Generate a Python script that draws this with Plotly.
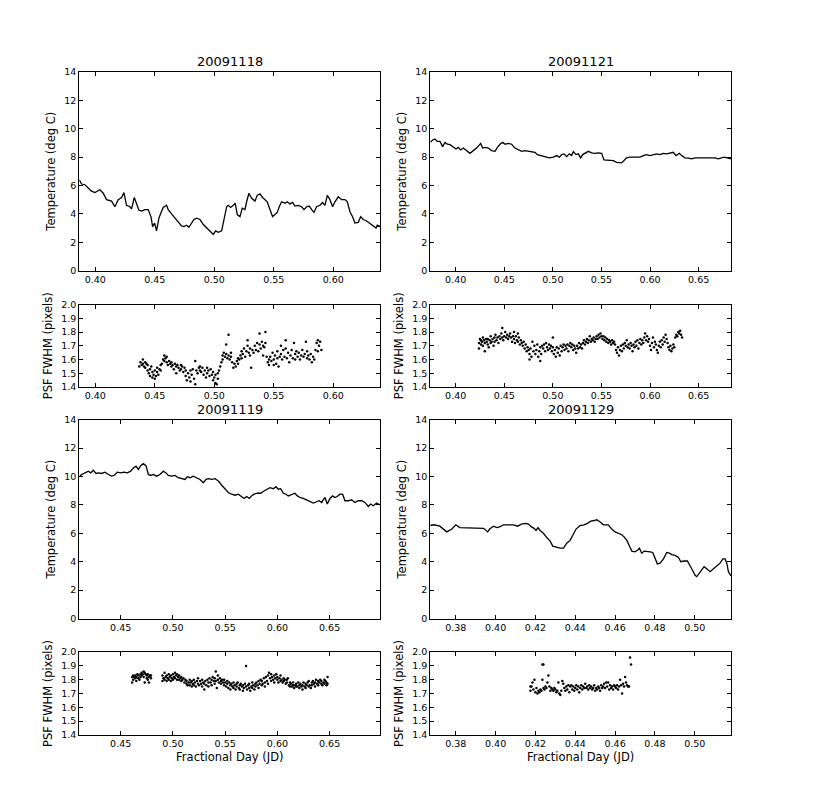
import plotly.graph_objects as go

# ---------------- data ----------------
titles = ["20091118", "20091121", "20091119", "20091129"]

t1_x = [0.3866,0.3885,0.3913,0.3941,0.3969,0.3997,0.4039,0.4067,0.4095,0.4137,
        0.4165,0.4193,0.4221,0.4241,0.4263,0.4291,0.4305,0.4328,0.4347,0.4367,
        0.4389,0.4417,0.4445,0.4468,0.4482,0.4499,0.4515,0.4535,0.4549,0.4571,
        0.4599,0.4613,0.4641,0.4669,0.4697,0.4725,0.4745,0.4768,0.4787,0.4810,
        0.4829,0.4852,0.4880,0.4908,0.4936,0.4964,0.4992,0.5011,0.5034,0.5062,
        0.5081,0.5104,0.5118,0.5137,0.5160,0.5176,0.5193,0.5216,0.5235,0.5258,
        0.5272,0.5291,0.5314,0.5342,0.5361,0.5384,0.5406,0.5426,0.5445,0.5468,
        0.5490,0.5510,0.5529,0.5546,0.5566,0.5594,0.5613,0.5636,0.5658,0.5678,
        0.5706,0.5734,0.5754,0.5776,0.5798,0.5818,0.5838,0.5860,0.5888,0.5910,
        0.5930,0.5950,0.5972,0.5994,0.6014,0.6042,0.6070,0.6098,0.6118,0.6140,
        0.6162,0.6182,0.6210,0.6230,0.6252,0.6280,0.6308,0.6336,0.6359,0.6370,0.6395]
t1_y = [6.4,6.1,6.05,5.8,5.6,5.5,5.7,5.45,5.0,4.9,
        4.5,5.0,5.15,5.5,4.6,4.5,4.35,5.15,4.75,4.25,
        4.2,4.3,4.3,3.8,3.1,3.35,2.8,3.7,4.0,4.45,
        4.6,4.3,4.0,3.7,3.4,3.15,3.1,3.2,3.05,3.35,
        3.6,3.7,3.6,3.25,3.0,2.8,2.55,2.8,2.7,2.8,
        3.6,4.5,4.6,4.45,4.6,4.75,3.95,3.8,4.4,4.3,
        4.85,5.45,5.1,4.9,5.3,5.4,5.15,5.0,4.85,4.3,
        3.8,3.95,4.1,4.5,4.85,4.75,4.85,4.7,4.8,4.55,
        4.6,4.5,4.3,4.5,4.55,4.3,4.1,4.5,4.6,4.8,
        4.6,5.3,5.0,4.5,4.85,5.2,5.0,5.0,4.85,4.15,
        3.8,3.35,3.4,3.8,3.6,3.5,3.3,3.1,3.0,3.2,3.1]

t2_x = [0.3739,0.3763,0.3787,0.3811,0.3839,0.3866,0.3890,0.3914,0.3942,0.3976,
        0.4003,0.4027,0.4051,0.4079,0.4113,0.4147,0.4182,0.4223,0.4257,0.4278,
        0.4302,0.4336,0.4370,0.4405,0.4429,0.4456,0.4484,0.4508,0.4542,0.4576,
        0.4610,0.4645,0.4679,0.4713,0.4748,0.4782,0.4816,0.4840,0.4874,0.4919,
        0.4964,0.5005,0.5039,0.5067,0.5091,0.5115,0.5142,0.5169,0.5193,0.5211,
        0.5238,0.5262,0.5286,0.5307,0.5331,0.5365,0.5399,0.5433,0.5468,0.5502,
        0.5526,0.5571,0.5622,0.5656,0.5708,0.5732,0.5759,0.5794,0.5845,0.5896,
        0.5931,0.5965,0.5999,0.6034,0.6068,0.6102,0.6136,0.6171,0.6205,0.6240,
        0.6267,0.6301,0.6325,0.6359,0.6394,0.6428,0.6462,0.6497,0.6531,0.6565,
        0.6599,0.6634,0.6668,0.6702,0.6737,0.6761,0.6795,0.6833]
t2_y = [9.03,9.2,9.26,9.1,9.1,8.73,9.03,8.9,8.87,8.73,
        8.56,8.68,8.5,8.63,8.45,8.26,8.45,8.68,8.96,8.63,
        8.68,8.63,8.45,8.4,8.68,8.9,9.03,8.9,8.96,8.9,
        8.63,8.52,8.4,8.45,8.4,8.4,8.33,8.17,8.1,7.99,
        7.94,7.99,8.1,7.99,8.17,8.22,8.03,8.22,8.1,8.38,
        8.17,8.22,7.94,8.17,8.26,8.4,8.29,8.26,8.29,8.26,
        7.8,7.8,7.75,7.62,7.59,7.75,7.94,7.99,7.99,7.99,
        8.1,8.17,8.1,8.17,8.22,8.17,8.26,8.22,8.29,8.33,
        8.1,8.26,8.1,7.94,7.92,7.87,7.94,7.94,7.99,7.99,
        7.94,7.94,7.94,7.87,7.94,7.99,7.94,7.87]

t3_x = [0.4104,0.4127,0.4159,0.4191,0.4213,0.4238,0.4264,0.4286,0.4318,0.4350,
        0.4382,0.4414,0.4436,0.4468,0.4500,0.4532,0.4564,0.4596,0.4621,0.4647,
        0.4669,0.4691,0.4717,0.4742,0.4765,0.4787,0.4813,0.4844,0.4876,0.4908,
        0.4934,0.4956,0.4988,0.5020,0.5052,0.5084,0.5116,0.5138,0.5163,0.5195,
        0.5227,0.5259,0.5291,0.5317,0.5339,0.5371,0.5403,0.5435,0.5467,0.5498,
        0.5530,0.5562,0.5594,0.5626,0.5658,0.5680,0.5706,0.5731,0.5753,0.5776,
        0.5808,0.5840,0.5872,0.5904,0.5929,0.5961,0.5986,0.6009,0.6031,0.6057,
        0.6082,0.6104,0.6136,0.6168,0.6191,0.6216,0.6248,0.6280,0.6312,0.6344,
        0.6376,0.6401,0.6423,0.6455,0.6478,0.6503,0.6529,0.6551,0.6573,0.6599,
        0.6624,0.6647,0.6679,0.6711,0.6742,0.6774,0.6806,0.6838,0.6870,0.6892,
        0.6918,0.6950,0.6985]
t3_y = [9.98,10.14,10.25,10.37,10.25,10.44,10.21,10.25,10.21,10.3,
        10.14,10.02,10.07,10.3,10.25,10.3,10.25,10.37,10.6,10.72,
        10.49,10.76,10.9,10.76,10.14,10.07,10.14,10.02,10.14,10.37,
        10.25,10.07,10.02,10.07,9.91,9.84,9.79,9.98,9.91,10.02,
        9.91,9.79,9.56,9.79,9.84,9.79,9.84,9.68,9.38,9.14,
        8.87,8.75,8.68,8.75,8.59,8.45,8.59,8.45,8.63,8.75,
        8.82,8.82,8.98,9.1,9.21,9.14,9.28,9.1,9.14,8.82,
        8.75,8.63,8.75,8.82,8.63,8.52,8.45,8.36,8.22,8.13,
        8.22,8.29,8.17,8.52,8.06,8.45,8.63,8.52,8.59,8.75,
        8.75,8.29,8.29,8.36,8.17,8.29,8.29,8.17,7.89,8.06,
        7.94,8.13,7.99]

t4_x = [0.367,0.369,0.372,0.3755,0.378,0.380,0.382,0.386,0.390,0.394,
        0.396,0.397,0.399,0.4005,0.402,0.404,0.4065,0.409,0.411,0.413,
        0.415,0.4165,0.418,0.4193,0.4203,0.4213,0.4223,0.424,0.4257,0.4274,
        0.4287,0.4307,0.4324,0.4341,0.4357,0.4374,0.4387,0.4404,0.4424,0.4444,
        0.4461,0.4478,0.4495,0.4508,0.4525,0.4541,0.4566,0.4583,0.460,0.4617,
        0.4633,0.4645,0.4659,0.4672,0.4684,0.470,0.4712,0.4722,0.4734,0.4746,
        0.4759,0.4776,0.4789,0.480,0.4812,0.4826,0.4843,0.4859,0.4873,0.4885,
        0.4901,0.4918,0.493,0.4946,0.4963,0.4977,0.499,0.5002,0.501,0.5023,
        0.5035,0.5047,0.506,0.5077,0.5094,0.511,0.5127,0.5141,0.5152,0.5161,0.5169,0.5182]
t4_y = [6.55,6.6,6.5,6.1,6.3,6.6,6.4,6.4,6.4,6.35,
        6.1,6.3,6.5,6.4,6.45,6.6,6.6,6.6,6.5,6.65,
        6.7,6.65,6.45,6.35,6.2,6.4,6.2,6.0,5.7,5.45,
        5.1,5.0,4.95,4.95,5.3,5.5,5.9,6.3,6.55,6.6,
        6.7,6.85,6.9,6.95,6.8,6.6,6.6,6.3,6.1,6.0,
        5.9,5.75,5.5,5.1,4.75,4.7,4.8,4.95,4.6,4.75,
        4.75,4.7,4.65,4.2,3.85,3.9,4.2,4.65,4.6,4.5,
        4.45,4.3,4.0,4.05,4.05,3.7,3.3,3.05,2.95,3.2,
        3.4,3.65,3.5,3.3,3.5,3.7,3.9,4.2,4.2,3.9,3.3,3.0]

psf1 = [(0.437,1.55),(0.438,1.58),(0.439,1.56),(0.440,1.60),(0.440,1.57),(0.441,1.55),(0.442,1.58),(0.442,1.54),
        (0.443,1.57),(0.444,1.52),(0.444,1.56),(0.445,1.50),(0.446,1.53),(0.446,1.48),(0.447,1.55),(0.448,1.47),
        (0.448,1.51),(0.449,1.49),(0.450,1.46),(0.450,1.52),(0.451,1.48),(0.452,1.51),(0.452,1.54),(0.453,1.49),
        (0.454,1.53),(0.455,1.56),(0.455,1.52),(0.456,1.57),(0.457,1.60),(0.458,1.63),(0.458,1.59),(0.459,1.61),
        (0.460,1.58),(0.460,1.62),(0.461,1.56),(0.462,1.59),(0.463,1.57),(0.464,1.55),(0.464,1.58),(0.465,1.56),
        (0.466,1.53),(0.467,1.57),(0.468,1.55),(0.468,1.50),(0.469,1.56),(0.470,1.54),(0.471,1.52),(0.472,1.56),
        (0.472,1.53),(0.473,1.55),(0.474,1.51),(0.475,1.54),(0.476,1.48),(0.476,1.52),(0.477,1.45),(0.478,1.50),
        (0.479,1.47),(0.480,1.52),(0.480,1.44),(0.481,1.49),(0.482,1.53),(0.483,1.46),(0.484,1.42),(0.484,1.59),
        (0.485,1.52),(0.486,1.50),(0.487,1.54),(0.488,1.52),(0.488,1.55),(0.489,1.51),(0.490,1.54),(0.491,1.49),
        (0.492,1.52),(0.493,1.47),(0.494,1.54),(0.494,1.50),(0.495,1.52),(0.496,1.48),(0.497,1.53),(0.498,1.49),
        (0.499,1.45),(0.499,1.51),(0.500,1.47),(0.501,1.43),(0.501,1.49),(0.502,1.42),(0.503,1.46),(0.503,1.50),
        (0.504,1.52),(0.505,1.55),(0.506,1.58),(0.507,1.63),(0.507,1.60),(0.508,1.65),(0.509,1.62),(0.510,1.71),
        (0.510,1.64),(0.511,1.61),(0.512,1.78),(0.512,1.63),(0.513,1.60),(0.514,1.65),(0.514,1.62),(0.515,1.58),
        (0.516,1.54),(0.517,1.57),(0.518,1.55),(0.519,1.59),(0.520,1.57),(0.520,1.61),(0.521,1.60),(0.522,1.63),
        (0.523,1.66),(0.523,1.61),(0.524,1.64),(0.525,1.68),(0.526,1.62),(0.527,1.66),(0.528,1.74),(0.528,1.70),
        (0.529,1.65),(0.530,1.63),(0.530,1.68),(0.531,1.54),(0.532,1.67),(0.533,1.65),(0.534,1.70),(0.535,1.67),
        (0.536,1.72),(0.537,1.66),(0.538,1.79),(0.538,1.71),(0.539,1.68),(0.540,1.73),(0.541,1.70),(0.541,1.63),
        (0.542,1.69),(0.543,1.80),(0.543,1.72),(0.544,1.62),(0.545,1.58),(0.546,1.60),(0.546,1.56),(0.547,1.62),
        (0.548,1.59),(0.549,1.65),(0.550,1.60),(0.550,1.56),(0.551,1.63),(0.552,1.57),(0.553,1.61),(0.553,1.66),
        (0.554,1.55),(0.555,1.62),(0.556,1.70),(0.556,1.64),(0.557,1.60),(0.558,1.67),(0.559,1.62),(0.560,1.74),
        (0.560,1.68),(0.561,1.61),(0.562,1.65),(0.563,1.58),(0.564,1.63),(0.565,1.67),(0.566,1.61),(0.567,1.72),
        (0.568,1.64),(0.568,1.60),(0.569,1.66),(0.570,1.62),(0.571,1.65),(0.572,1.60),(0.573,1.63),(0.574,1.67),
        (0.575,1.62),(0.576,1.64),(0.577,1.73),(0.578,1.61),(0.578,1.66),(0.579,1.63),(0.580,1.60),(0.581,1.64),
        (0.582,1.58),(0.583,1.62),(0.584,1.60),(0.585,1.67),(0.586,1.72),(0.587,1.66),(0.587,1.74),(0.588,1.70),
        (0.589,1.73),(0.590,1.67)]

psf2 = [(0.424,1.68),(0.424,1.72),(0.425,1.75),(0.426,1.71),(0.426,1.74),(0.427,1.73),(0.428,1.76),(0.428,1.70),
        (0.429,1.74),(0.430,1.66),(0.430,1.72),(0.431,1.75),(0.432,1.73),(0.433,1.71),(0.433,1.75),(0.434,1.69),
        (0.435,1.74),(0.436,1.72),(0.436,1.77),(0.437,1.73),(0.438,1.75),(0.439,1.70),(0.440,1.76),(0.440,1.73),
        (0.441,1.78),(0.442,1.74),(0.443,1.76),(0.444,1.72),(0.445,1.77),(0.446,1.75),(0.447,1.79),(0.448,1.83),
        (0.448,1.76),(0.449,1.74),(0.450,1.77),(0.451,1.80),(0.452,1.76),(0.453,1.78),(0.454,1.75),(0.455,1.77),
        (0.456,1.79),(0.457,1.76),(0.458,1.73),(0.459,1.77),(0.460,1.80),(0.460,1.75),(0.461,1.72),(0.462,1.77),
        (0.463,1.74),(0.464,1.79),(0.464,1.73),(0.465,1.76),(0.466,1.71),(0.467,1.74),(0.468,1.72),(0.469,1.70),
        (0.470,1.73),(0.471,1.68),(0.472,1.71),(0.473,1.66),(0.474,1.69),(0.475,1.67),(0.476,1.60),(0.476,1.64),
        (0.477,1.68),(0.478,1.62),(0.479,1.73),(0.480,1.66),(0.481,1.70),(0.482,1.64),(0.483,1.67),(0.484,1.71),
        (0.485,1.62),(0.486,1.66),(0.487,1.59),(0.487,1.69),(0.488,1.64),(0.489,1.70),(0.490,1.68),(0.491,1.71),
        (0.492,1.66),(0.493,1.72),(0.494,1.69),(0.495,1.67),(0.496,1.71),(0.497,1.68),(0.498,1.70),(0.499,1.66),
        (0.500,1.76),(0.500,1.69),(0.501,1.64),(0.502,1.67),(0.503,1.62),(0.504,1.69),(0.505,1.65),(0.506,1.68),
        (0.507,1.63),(0.508,1.70),(0.509,1.66),(0.510,1.69),(0.511,1.71),(0.512,1.67),(0.513,1.70),(0.514,1.68),
        (0.515,1.71),(0.516,1.66),(0.517,1.70),(0.518,1.72),(0.519,1.69),(0.520,1.71),(0.521,1.67),(0.522,1.70),
        (0.523,1.68),(0.524,1.65),(0.525,1.70),(0.526,1.68),(0.527,1.72),(0.528,1.69),(0.529,1.71),(0.530,1.68),
        (0.531,1.72),(0.532,1.74),(0.533,1.71),(0.534,1.73),(0.535,1.75),(0.536,1.72),(0.537,1.74),(0.538,1.77),
        (0.539,1.73),(0.540,1.75),(0.541,1.74),(0.542,1.76),(0.543,1.73),(0.544,1.75),(0.545,1.77),(0.546,1.75),
        (0.547,1.78),(0.548,1.76),(0.549,1.79),(0.550,1.77),(0.551,1.75),(0.552,1.77),(0.553,1.74),(0.554,1.76),
        (0.555,1.73),(0.556,1.75),(0.557,1.72),(0.558,1.74),(0.559,1.73),(0.560,1.71),(0.561,1.74),(0.562,1.72),
        (0.563,1.73),(0.564,1.71),(0.565,1.67),(0.566,1.65),(0.567,1.69),(0.568,1.63),(0.569,1.67),(0.570,1.70),
        (0.571,1.66),(0.572,1.71),(0.573,1.68),(0.574,1.72),(0.575,1.70),(0.576,1.74),(0.577,1.69),(0.578,1.71),
        (0.579,1.68),(0.580,1.72),(0.581,1.70),(0.582,1.66),(0.583,1.71),(0.584,1.69),(0.585,1.73),(0.586,1.70),
        (0.587,1.74),(0.588,1.68),(0.589,1.72),(0.590,1.75),(0.591,1.71),(0.592,1.74),(0.593,1.72),(0.594,1.76),
        (0.595,1.79),(0.596,1.74),(0.597,1.77),(0.598,1.73),(0.599,1.75),(0.600,1.70),(0.601,1.67),(0.602,1.72),
        (0.603,1.76),(0.604,1.69),(0.605,1.73),(0.606,1.71),(0.607,1.67),(0.608,1.65),(0.609,1.70),(0.610,1.73),
        (0.611,1.69),(0.612,1.74),(0.613,1.71),(0.614,1.76),(0.615,1.73),(0.616,1.78),(0.617,1.75),(0.618,1.72),
        (0.619,1.69),(0.620,1.67),(0.621,1.70),(0.622,1.66),(0.623,1.68),(0.624,1.71),(0.625,1.69),(0.626,1.76),
        (0.627,1.78),(0.628,1.77),(0.629,1.80),(0.630,1.79),(0.631,1.81),(0.632,1.78),(0.633,1.76)]

psf3 = [(0.461,1.78),(0.461,1.82),(0.462,1.83),(0.462,1.80),(0.463,1.82),(0.464,1.81),(0.464,1.83),(0.465,1.79),
        (0.465,1.82),(0.466,1.84),(0.467,1.81),(0.467,1.83),(0.468,1.80),(0.469,1.84),(0.469,1.82),(0.470,1.85),
        (0.470,1.83),(0.471,1.84),(0.472,1.86),(0.472,1.82),(0.473,1.85),(0.473,1.78),(0.474,1.84),(0.475,1.83),
        (0.475,1.81),(0.476,1.80),(0.476,1.84),(0.477,1.78),(0.477,1.82),(0.478,1.83),(0.479,1.81),(0.479,1.83),
        (0.490,1.79),(0.490,1.83),(0.491,1.81),(0.492,1.80),(0.492,1.85),(0.493,1.82),(0.494,1.79),(0.494,1.83),
        (0.495,1.81),(0.496,1.84),(0.496,1.80),(0.497,1.82),(0.498,1.79),(0.498,1.83),(0.499,1.81),(0.500,1.84),
        (0.500,1.80),(0.501,1.82),(0.502,1.85),(0.502,1.81),(0.503,1.83),(0.504,1.80),(0.504,1.84),(0.505,1.82),
        (0.506,1.80),(0.506,1.83),(0.507,1.81),(0.508,1.79),(0.508,1.82),(0.509,1.80),(0.510,1.81),(0.511,1.78),
        (0.512,1.80),(0.513,1.77),(0.513,1.79),(0.514,1.76),(0.515,1.78),(0.516,1.80),(0.516,1.76),(0.517,1.78),
        (0.518,1.75),(0.518,1.79),(0.519,1.77),(0.520,1.80),(0.520,1.76),(0.521,1.78),(0.522,1.75),(0.523,1.79),
        (0.524,1.77),(0.524,1.81),(0.525,1.76),(0.526,1.79),(0.527,1.77),(0.528,1.80),(0.528,1.75),(0.529,1.78),
        (0.530,1.73),(0.530,1.77),(0.531,1.79),(0.532,1.76),(0.533,1.80),(0.534,1.78),(0.534,1.75),(0.535,1.81),
        (0.536,1.78),(0.537,1.80),(0.537,1.76),(0.538,1.82),(0.539,1.79),(0.540,1.77),(0.540,1.81),(0.541,1.86),
        (0.541,1.79),(0.542,1.74),(0.543,1.80),(0.543,1.83),(0.544,1.78),(0.545,1.81),(0.546,1.79),(0.546,1.77),
        (0.547,1.80),(0.548,1.78),(0.549,1.76),(0.549,1.80),(0.550,1.78),(0.551,1.75),(0.552,1.79),(0.552,1.77),
        (0.553,1.74),(0.554,1.78),(0.555,1.76),(0.555,1.73),(0.556,1.77),(0.557,1.75),(0.558,1.78),(0.558,1.74),
        (0.559,1.76),(0.560,1.73),(0.561,1.77),(0.561,1.75),(0.562,1.78),(0.563,1.74),(0.564,1.76),(0.564,1.73),
        (0.565,1.77),(0.566,1.75),(0.567,1.72),(0.567,1.76),(0.568,1.74),(0.569,1.77),(0.570,1.90),(0.570,1.75),
        (0.571,1.73),(0.572,1.76),(0.573,1.74),(0.573,1.77),(0.574,1.72),(0.575,1.75),(0.576,1.78),(0.576,1.74),
        (0.577,1.76),(0.578,1.73),(0.579,1.77),(0.579,1.75),(0.580,1.78),(0.581,1.76),(0.582,1.79),(0.582,1.74),
        (0.583,1.77),(0.584,1.80),(0.585,1.76),(0.585,1.79),(0.586,1.77),(0.587,1.81),(0.588,1.78),(0.588,1.75),
        (0.589,1.82),(0.590,1.79),(0.591,1.83),(0.591,1.77),(0.592,1.85),(0.593,1.81),(0.594,1.84),(0.594,1.79),
        (0.595,1.82),(0.596,1.80),(0.597,1.83),(0.597,1.78),(0.598,1.81),(0.599,1.84),(0.600,1.80),(0.600,1.82),
        (0.601,1.78),(0.602,1.81),(0.603,1.79),(0.603,1.83),(0.604,1.80),(0.605,1.78),(0.606,1.81),(0.606,1.79),
        (0.607,1.80),(0.608,1.77),(0.609,1.80),(0.609,1.78),(0.610,1.81),(0.611,1.76),(0.612,1.78),(0.612,1.75),
        (0.613,1.77),(0.614,1.75),(0.615,1.76),(0.615,1.78),(0.616,1.74),(0.617,1.76),(0.618,1.75),(0.618,1.77),
        (0.619,1.75),(0.620,1.78),(0.621,1.76),(0.621,1.74),(0.622,1.77),(0.623,1.75),(0.624,1.73),(0.624,1.76),
        (0.625,1.78),(0.626,1.75),(0.627,1.77),(0.627,1.74),(0.628,1.76),(0.629,1.78),(0.630,1.75),(0.630,1.79),
        (0.631,1.76),(0.632,1.74),(0.633,1.78),(0.633,1.76),(0.634,1.79),(0.635,1.77),(0.636,1.75),(0.636,1.78),
        (0.637,1.80),(0.638,1.77),(0.639,1.79),(0.639,1.76),(0.640,1.78),(0.641,1.80),(0.642,1.77),(0.642,1.79),
        (0.643,1.76),(0.644,1.78),(0.645,1.80),(0.645,1.77),(0.646,1.79),(0.647,1.76),(0.647,1.78),(0.648,1.77),
        (0.648,1.82)]

psf4 = [(0.4175,1.72),(0.4175,1.75),(0.418,1.75),(0.4185,1.78),(0.419,1.73),(0.4195,1.80),(0.420,1.71),(0.4205,1.74),
        (0.421,1.70),(0.4215,1.72),(0.422,1.71),(0.4225,1.73),(0.423,1.72),(0.4235,1.91),(0.4235,1.80),(0.424,1.91),
        (0.424,1.74),(0.4245,1.73),(0.425,1.75),(0.4255,1.74),(0.426,1.78),(0.4265,1.83),(0.427,1.75),(0.4275,1.72),
        (0.428,1.74),(0.4285,1.73),(0.429,1.72),(0.4295,1.74),(0.430,1.73),(0.4305,1.71),(0.431,1.72),(0.4315,1.78),
        (0.432,1.70),(0.4325,1.69),(0.433,1.72),(0.4335,1.79),(0.434,1.77),(0.4345,1.74),(0.435,1.72),(0.4355,1.75),
        (0.436,1.73),(0.4365,1.76),(0.437,1.71),(0.4375,1.75),(0.438,1.76),(0.4385,1.73),(0.439,1.75),(0.4395,1.72),
        (0.440,1.74),(0.4405,1.76),(0.441,1.73),(0.4415,1.75),(0.442,1.71),(0.4425,1.74),(0.443,1.76),(0.4435,1.73),
        (0.444,1.75),(0.4445,1.74),(0.445,1.77),(0.4455,1.74),(0.446,1.75),(0.4465,1.73),(0.447,1.76),(0.4475,1.74),
        (0.448,1.75),(0.4485,1.73),(0.449,1.74),(0.4495,1.76),(0.450,1.72),(0.4505,1.74),(0.451,1.73),(0.4515,1.75),
        (0.452,1.74),(0.4525,1.72),(0.453,1.76),(0.4535,1.74),(0.454,1.75),(0.4545,1.77),(0.455,1.74),(0.4555,1.78),
        (0.456,1.75),(0.4565,1.78),(0.457,1.73),(0.4575,1.76),(0.458,1.74),(0.4585,1.75),(0.459,1.73),(0.4595,1.76),
        (0.460,1.75),(0.4605,1.74),(0.461,1.76),(0.4615,1.73),(0.462,1.75),(0.4625,1.80),(0.463,1.76),(0.4635,1.70),
        (0.464,1.77),(0.4645,1.75),(0.465,1.82),(0.4655,1.78),(0.466,1.76),(0.4665,1.75),(0.467,1.75),(0.4675,1.96),
        (0.468,1.91)]

x_ranges = [[0.3866, 0.6395], [0.3739, 0.6833], [0.4104, 0.6985], [0.3672, 0.5182]]
x_ticks = [[0.40, 0.45, 0.50, 0.55, 0.60],
           [0.40, 0.45, 0.50, 0.55, 0.60, 0.65],
           [0.45, 0.50, 0.55, 0.60, 0.65],
           [0.38, 0.40, 0.42, 0.44, 0.46, 0.48, 0.50]]
temp_ticks = [0, 2, 4, 6, 8, 10, 12, 14]
psf_ticks = [1.4, 1.5, 1.6, 1.7, 1.8, 1.9, 2.0]

# ---------------- layout ----------------
W, H = 815, 810
col_dom = [[79.3 / W, 380.3 / W], [430.3 / W, 731.0 / W]]
def ydom(top, bot):
    return [1 - bot / H, 1 - top / H]
temp_dom = [ydom(66.7, 268.3), ydom(419.3, 621.0)]
psf_dom = [ydom(302.7, 386.3), ydom(655.0, 739.0)]

FONT = "DejaVu Sans"
fig = go.Figure()

temps = [(t1_x, t1_y), (t2_x, t2_y), (t3_x, t3_y), (t4_x, t4_y)]
psfs = [psf1, psf2, psf3, psf4]

layout = dict(width=W, height=H, margin=dict(l=0, r=0, t=0, b=0),
              paper_bgcolor="white", plot_bgcolor="white", showlegend=False,
              font=dict(family=FONT, color="black"))
annotations = []

axis_common = dict(showline=True, linecolor="black", linewidth=1, mirror="ticks",
                   ticks="inside", ticklen=4, tickwidth=1, tickcolor="black",
                   showgrid=False, zeroline=False,
                   tickfont=dict(family=FONT, size=9.5, color="black"))

for i in range(4):
    row, col = divmod(i, 2)
    ta = 2 * i + 1
    pa = 2 * i + 2
    tx, ty = temps[i]
    fig.add_trace(go.Scatter(x=tx, y=ty, mode="lines",
                             line=dict(color="black", width=1.3),
                             xaxis=f"x{ta}", yaxis=f"y{ta}"))
    px_ = [p[0] for p in psfs[i]]
    py_ = [p[1] for p in psfs[i]]
    fig.add_trace(go.Scatter(x=px_, y=py_, mode="markers",
                             marker=dict(color="black", size=2.5, symbol="circle"),
                             xaxis=f"x{pa}", yaxis=f"y{pa}"))

    for ax, dom_y, yr, yt, ytitle in [(ta, temp_dom[row], [0, 14], temp_ticks, "Temperature (deg C)"),
                                      (pa, psf_dom[row], [1.4, 2.0], psf_ticks, "PSF FWHM (pixels)")]:
        xa = dict(axis_common, domain=col_dom[col], range=x_ranges[i], anchor=f"y{ax}",
                  tickvals=x_ticks[i], tickformat=".2f")
        if ax == pa and row == 1:
            xa["title"] = dict(text="Fractional Day (JD)", standoff=4,
                               font=dict(family=FONT, size=11.5, color="black"))
        ya = dict(axis_common, domain=dom_y, range=yr, anchor=f"x{ax}",
                  tickvals=yt, tickformat=".1f" if ax == pa else "d",
                  title=dict(text=ytitle, standoff=6,
                             font=dict(family=FONT, size=11.5, color="black")))
        layout[f"xaxis{ax}"] = xa
        layout[f"yaxis{ax}"] = ya

    annotations.append(dict(text=titles[i], xref="paper", yref="paper",
                            x=(col_dom[col][0] + col_dom[col][1]) / 2,
                            y=temp_dom[row][1], xanchor="center", yanchor="bottom",
                            yshift=1, showarrow=False,
                            font=dict(family=FONT, size=13, color="black")))

layout["annotations"] = annotations
fig.update_layout(**layout)
fig.write_html("out.html", config={"displayModeBar": False},
               post_script="document.body.style.margin='0';document.body.style.overflow='hidden';")
